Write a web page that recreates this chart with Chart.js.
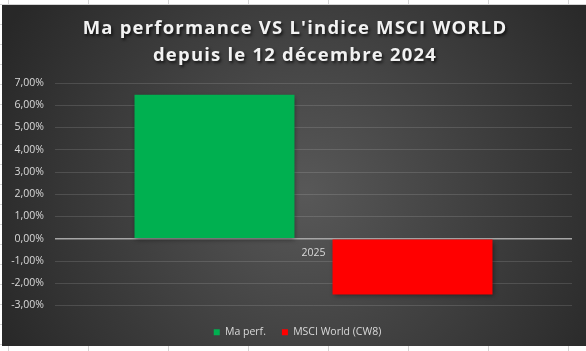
<!DOCTYPE html>
<html>
<head>
<meta charset="utf-8">
<script src="https://cdn.jsdelivr.net/npm/chart.js@4.4.1/dist/chart.umd.min.js"></script>
<style>
  html, body { margin: 0; padding: 0; }
  body {
    width: 586px; height: 351px; overflow: hidden; position: relative;
    background-color: #fff;
    /* cellules Excel derrière le graphique */
    background-image:
      repeating-linear-gradient(to right, transparent 0 8px, #d4d4d4 8px 9px, transparent 9px 80px),
      repeating-linear-gradient(to bottom, transparent 0 4px, #d4d4d4 4px 5px, transparent 5px 20px);
  }
  #wrap { position: absolute; left: 2px; top: 5px; width: 584px; height: 341px; }
</style>
</head>
<body>
<div id="wrap"><canvas id="perfChart" width="584" height="341"></canvas></div>
<script>
// Données du graphique
const categories = ['2025'];
const seriesNames = ['Ma perf.', 'MSCI World (CW8)'];
const myPerf = [6.47];      // en %
const msciWorld = [-2.50];  // en %
const titleLines = ["Ma performance VS L'indice MSCI WORLD", 'depuis le 12 décembre 2024'];

const textColor = '#d9d9d9';

// Fond dégradé radial façon Excel
const backgroundPlugin = {
    id: 'bgGradient',
    beforeDraw(chart) {
        const { ctx, width, height } = chart;
        const g = ctx.createRadialGradient(width * 0.52, height * 0.55, 0, width * 0.52, height * 0.55, 340);
        g.addColorStop(0, '#585858');
        g.addColorStop(1, '#282828');
        ctx.save();
        ctx.fillStyle = g;
        ctx.fillRect(0, 0, width, height);
        ctx.restore();
    }
};

// Ombre légère sous les barres
const shadowPlugin = {
    id: 'barShadow',
    beforeDatasetsDraw(chart) {
        const ctx = chart.ctx;
        ctx.save();
        ctx.shadowColor = 'rgba(0,0,0,0.45)';
        ctx.shadowBlur = 5;
        ctx.shadowOffsetX = 1;
        ctx.shadowOffsetY = 2;
    },
    afterDatasetsDraw(chart) {
        chart.ctx.restore();
    }
};

// Titre avec ombre et lettres espacées (comme dans Excel)
const titlePlugin = {
    id: 'excelTitle',
    afterDraw(chart) {
        const ctx = chart.ctx;
        ctx.save();
        ctx.font = 'bold 18.5px "Open Sans"';
        ctx.letterSpacing = '1.2px';
        ctx.textAlign = 'center';
        ctx.textBaseline = 'middle';
        ctx.fillStyle = '#f2f2f2';
        ctx.shadowColor = 'rgba(0,0,0,0.7)';
        ctx.shadowBlur = 3;
        ctx.shadowOffsetX = 1.5;
        ctx.shadowOffsetY = 1.5;
        titleLines.forEach((line, i) => ctx.fillText(line, 293, 24 + i * 27));
        ctx.restore();
    }
};

// Légende centrée sur la zone de traçage et un peu plus bas
const legendShiftPlugin = {
    id: 'legendShift',
    afterLayout(chart) {
        const lg = chart.legend;
        lg.left += 10.5;
        lg.right += 10.5;
        lg.top += 5.5;
        lg.bottom += 5.5;
    }
};

const ctx = document.getElementById('perfChart').getContext('2d');
new Chart(ctx, {
    type: 'bar',
    data: {
        labels: categories,
        datasets: [
            { label: seriesNames[0], data: myPerf, backgroundColor: '#00b050' },
            { label: seriesNames[1], data: msciWorld, backgroundColor: '#ff0000' }
        ]
    },
    options: {
        responsive: false,
        animation: false,
        categoryPercentage: 0.766,
        barPercentage: 0.808,
        layout: { padding: { left: 0, right: 14, top: 78, bottom: 4 } },
        scales: {
            x: {
                position: { y: 0 },
                grid: { display: false, drawTicks: false },
                border: { display: false },
                ticks: { color: textColor, font: { family: 'Open Sans', size: 10.5 }, padding: 8 }
            },
            y: {
                min: -3,
                max: 7,
                afterFit(axis) { axis.width = 53; },
                grid: {
                    drawTicks: false,
                    color: c => c.tick.value === 0 ? '#a6a6a6' : 'rgba(255,255,255,0.13)',
                    lineWidth: c => c.tick.value === 0 ? 1.5 : 1
                },
                border: { display: false },
                ticks: {
                    stepSize: 1,
                    color: textColor,
                    padding: 11,
                    font: { family: 'Open Sans', size: 10.5 },
                    callback: v => v.toFixed(2).replace('.', ',') + '%'
                }
            }
        },
        plugins: {
            title: { display: false },
            legend: {
                position: 'bottom',
                labels: {
                    color: textColor,
                    boxWidth: 6,
                    boxHeight: 6,
                    padding: 16,
                    font: { family: 'Open Sans', size: 10.5 }
                }
            },
            tooltip: { enabled: false }
        }
    },
    plugins: [backgroundPlugin, shadowPlugin, titlePlugin, legendShiftPlugin]
});
</script>
</body>
</html>
